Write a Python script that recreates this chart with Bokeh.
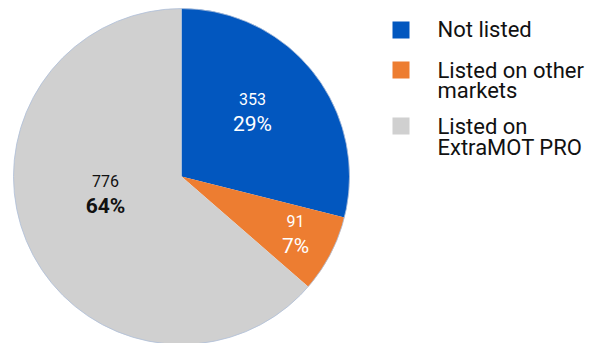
import numpy as np
from bokeh.plotting import figure
from bokeh.models import ColumnDataSource, Range1d
from bokeh.embed import file_html
from bokeh.resources import INLINE
from bokeh.core.properties import value

# Bond listing status
categories = ["Not listed", "Listed on other markets", "Listed on ExtraMOT PRO"]
counts = [353, 91, 776]
colors = ["#0257BF", "#ED7D31", "#D0D0D0"]
legend_lines = [["Not listed"], ["Listed on other", "markets"], ["Listed on", "ExtraMOT PRO"]]

W, H = 602, 343
FONT = value("Roboto")

total = sum(counts)
fracs = np.array(counts, dtype=float) / total
ends = np.cumsum(fracs)
starts = ends - fracs
# clockwise from 12 o'clock
start_angle = np.pi / 2 - 2 * np.pi * starts
end_angle = np.pi / 2 - 2 * np.pi * ends

p = figure(width=W, height=H, x_range=Range1d(0, W), y_range=Range1d(0, H),
           x_axis_type=None, y_axis_type=None, toolbar_location=None,
           output_backend="svg", min_border=0)
p.outline_line_color = None
p.grid.visible = False

def py(y):
    # page-style y (top down) to data y
    return H - y

cx, cy, R = 181, py(176), 168

src = ColumnDataSource(dict(cat=categories, count=counts, color=colors,
                            start=start_angle, end=end_angle))
p.wedge(x=cx, y=cy, radius=R, radius_units="screen", start_angle="start",
        end_angle="end", direction="clock", fill_color="color",
        line_color=None, source=src)
p.scatter(x=[cx], y=[cy], size=2 * R, marker="circle", fill_color=None,
          line_color="#aebfd9", line_width=0.8)

# slice labels: count above, share below
label_pos = [(252, 110), (295, 232), (105, 192)]
label_color = ["#ffffff", "#ffffff", "#111111"]
pct_style = ["normal", "normal", "bold"]
pct_text = [f"{round(100 * c / total)}%" for c in counts]
lab = ColumnDataSource(dict(
    x=[lp[0] for lp in label_pos],
    y_count=[py(lp[1] - 12) for lp in label_pos],
    y_pct=[py(lp[1] + 13) for lp in label_pos],
    count=[str(c) for c in counts],
    pct=pct_text,
    color=label_color,
    style=pct_style,
))
p.text(x="x", y="y_count", text="count", text_color="color", text_font=FONT,
       text_font_size="16px", text_align="center", text_baseline="middle",
       source=lab)
p.text(x="x", y="y_pct", text="pct", text_color="color", text_font=FONT,
       text_font_size="21px", text_font_style="style", text_align="center",
       text_baseline="middle", source=lab)

# legend
sq_top = [21, 61, 117]
line_mid = [[29], [70, 90], [126, 147]]
p.rect(x=[400.5] * 3, y=[py(t + 8.5) for t in sq_top], width=17, height=17,
       fill_color=colors, line_color=None)
lx, ly, lt = [], [], []
for lines, mids in zip(legend_lines, line_mid):
    for t, m in zip(lines, mids):
        lx.append(437)
        ly.append(py(m))
        lt.append(t)
p.text(x=lx, y=ly, text=lt, text_font=FONT, text_font_size="22px",
       text_color="#111111", text_align="left", text_baseline="middle")

open("out.html", "w").write(file_html(p, INLINE))
